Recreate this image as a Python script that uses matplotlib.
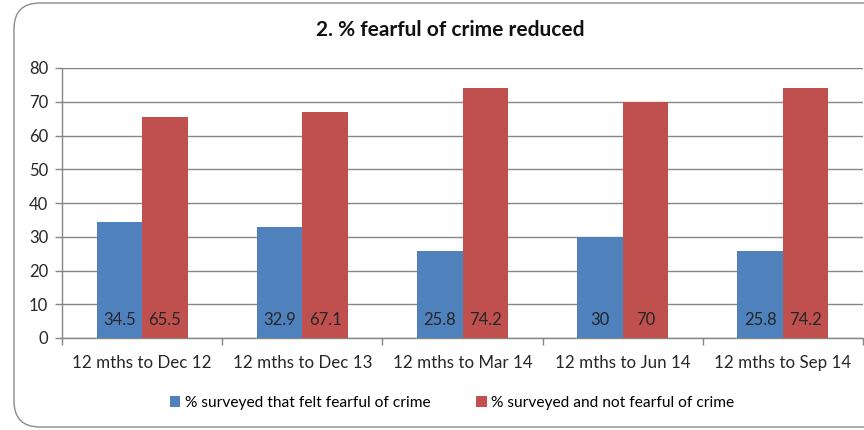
import matplotlib.pyplot as plt
import numpy as np
from matplotlib.patches import FancyBboxPatch

plt.rcParams['font.family'] = ['Lato', 'DejaVu Sans']

# datos
periodos = ['12 mths to Dec 12', '12 mths to Dec 13', '12 mths to Mar 14',
            '12 mths to Jun 14', '12 mths to Sep 14']
con_miedo = [34.5, 32.9, 25.8, 30, 25.8]
sin_miedo = [65.5, 67.1, 74.2, 70, 74.2]
etiquetas_con = ['34.5', '32.9', '25.8', '30', '25.8']
etiquetas_sin = ['65.5', '67.1', '74.2', '70', '74.2']

azul = '#4F81BD'
rojo = '#C0504D'
gris = '#868686'

fig = plt.figure(figsize=(8.64, 4.30), dpi=100)

# marco redondeado del grafico (detras de los ejes)
marco = FancyBboxPatch((14 / 864, 3 / 430), 1.2, 424 / 430,
                       boxstyle='round,pad=0,rounding_size=0.03',
                       transform=fig.transFigure, facecolor='white',
                       edgecolor='#8c8c8c', linewidth=1.0, zorder=-5,
                       mutation_aspect=864 / 430)
fig.patches.append(marco)

ax = fig.add_axes([62 / 864, 1 - 338 / 430, 801 / 864, 270 / 430])
ax.set_facecolor('none')
ax.set_zorder(2)

x = np.arange(len(periodos))
ancho = 0.284
b1 = ax.bar(x - ancho / 2, con_miedo, ancho, color=azul, zorder=3,
            label='% surveyed that felt fearful of crime')
b2 = ax.bar(x + ancho / 2, sin_miedo, ancho, color=rojo, zorder=3,
            label='% surveyed and not fearful of crime')

for i in range(len(periodos)):
    ax.text(x[i] - ancho / 2, 5.3, etiquetas_con[i], ha='center', va='center',
            fontsize=12, color='#262626', zorder=4)
    ax.text(x[i] + ancho / 2, 5.3, etiquetas_sin[i], ha='center', va='center',
            fontsize=12, color='#262626', zorder=4)

ax.set_xlim(-0.5, len(periodos) - 0.5)
ax.set_ylim(0, 80)
ax.set_yticks(range(0, 81, 10))
ax.yaxis.grid(True, color=gris, linewidth=1.0, zorder=0)
ax.set_axisbelow(True)

# ticks del eje x entre categorias
ax.set_xticks(x)
ax.set_xticklabels(periodos, fontsize=12.2, color='#262626')
ax.set_xticks(np.arange(-0.5, len(periodos), 1), minor=True)
ax.tick_params(axis='x', which='major', length=0, pad=12)
ax.tick_params(axis='x', which='minor', length=5, color=gris, width=1)
ax.tick_params(axis='y', length=5, color=gris, width=1, labelsize=12,
               labelcolor='#262626', pad=5)

for lado in ['top', 'right']:
    ax.spines[lado].set_visible(False)
for lado in ['left', 'bottom']:
    ax.spines[lado].set_color(gris)
    ax.spines[lado].set_linewidth(1.0)

fig.text(450 / 864, 1 - 30 / 430, '2. % fearful of crime reduced',
         ha='center', va='center', fontsize=15, fontweight='bold',
         color='#111111')

fig.legend(handles=[b1, b2], loc='center', bbox_to_anchor=(452 / 864, 1 - 403 / 430),
           ncol=2, frameon=False, fontsize=11.2, handlelength=0.7, handleheight=0.7,
           handletextpad=0.3, columnspacing=2.9)

fig.savefig('out.png', dpi=100)
